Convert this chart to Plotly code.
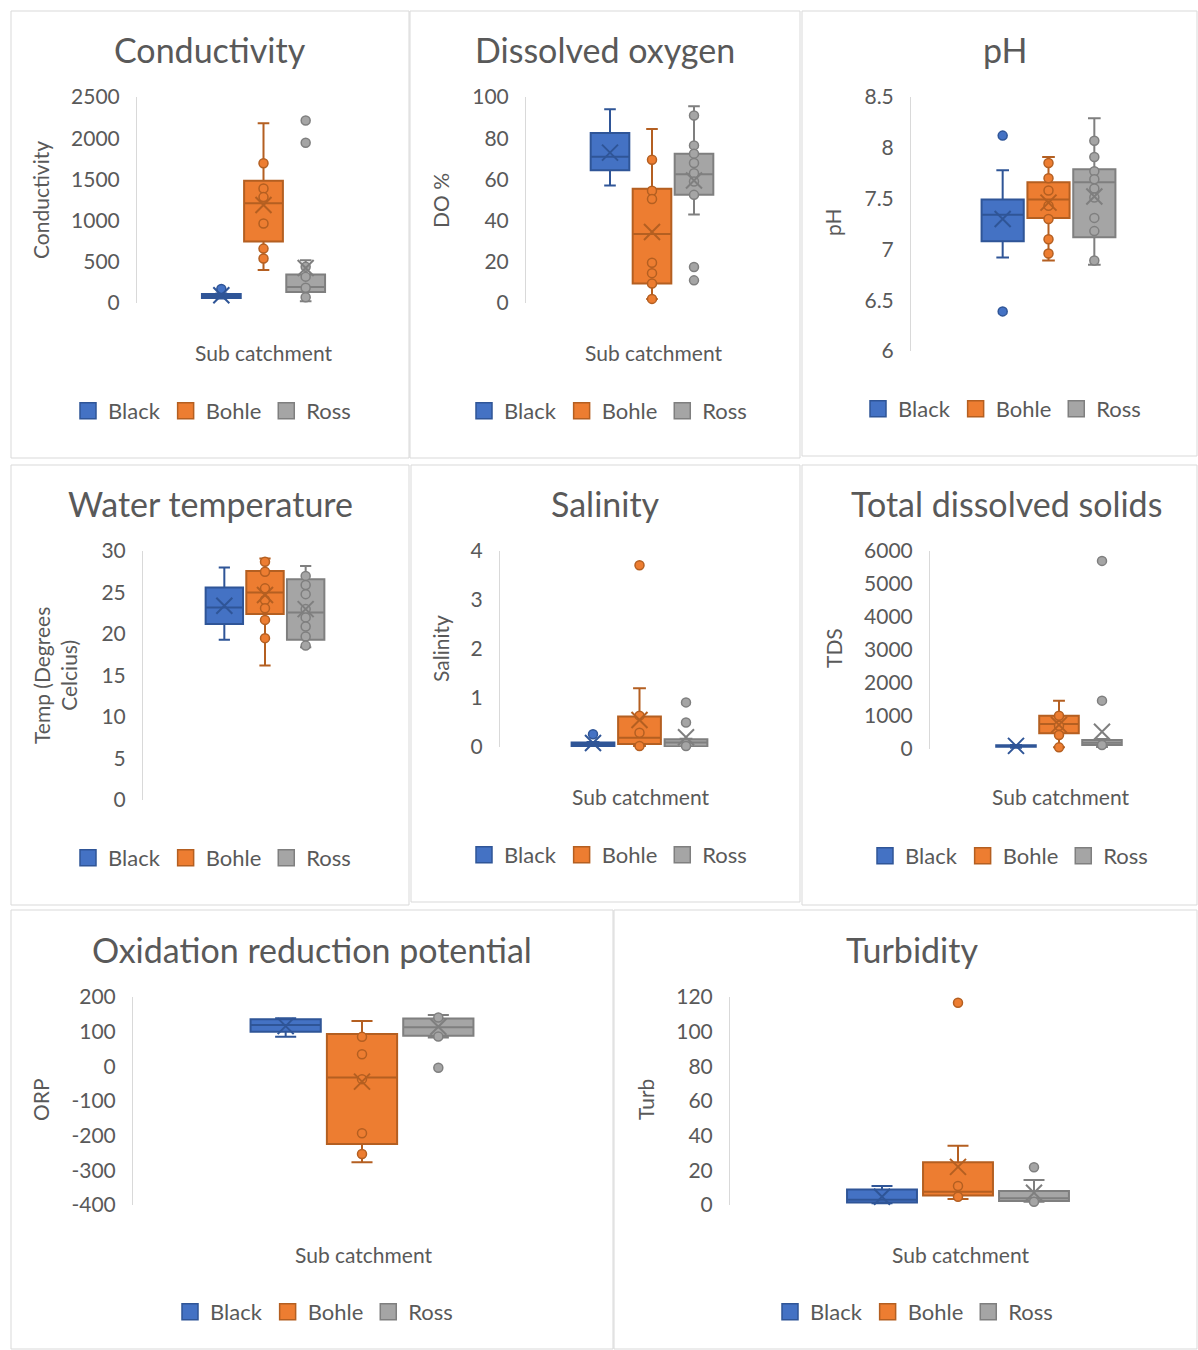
import plotly.graph_objects as go

W, H = 1198, 1350
TEXT = "#595959"
FONT = "Lato"

SERIES = ["Black", "Bohle", "Ross"]
FILL = ["#4472C4", "#ED7D31", "#A5A5A5"]
EDGE = ["#2F5597", "#B45F21", "#7F7F7F"]

# Five-number summaries, means and plotted sample points per sub catchment
# (order of every list: Black, Bohle, Ross)
conductivity = {
    "lower": [55, 400, 20], "q1": [60, 745, 135], "median": [85, 1210, 195],
    "q3": [110, 1485, 345], "upper": [115, 2180, 520], "mean": [95, 1190, 425],
    "points": [[170], [1695, 1390, 1285, 965, 660, 540], [2215, 1945, 440, 320, 185, 70]],
}
dissolved_oxygen = {
    "lower": [57, 2, 43], "q1": [64.5, 9.5, 52.5], "median": [71, 33.5, 62.5],
    "q3": [82.5, 55.5, 72.5], "upper": [94, 84.5, 95.5], "mean": [73, 34.5, 59.5],
    "points": [[], [69.5, 54.5, 50.5, 19.5, 14.5, 9.5, 2],
               [91, 76.5, 72.5, 68, 63, 59, 52.5, 17.5, 11]],
}
ph = {
    "lower": [6.92, 6.89, 6.85], "q1": [7.08, 7.31, 7.12], "median": [7.34, 7.49, 7.66],
    "q3": [7.49, 7.66, 7.79], "upper": [7.78, 7.91, 8.29], "mean": [7.30, 7.46, 7.52],
    "points": [[8.12, 6.39], [7.85, 7.70, 7.58, 7.43, 7.30, 7.10, 6.96],
               [8.07, 7.91, 7.77, 7.69, 7.60, 7.51, 7.31, 7.18, 6.89]],
}
water_temperature = {
    "lower": [19.3, 16.2, 18.4], "q1": [21.2, 22.4, 19.3], "median": [23.2, 25.0, 22.6],
    "q3": [25.6, 27.6, 26.6], "upper": [28.0, 29.1, 28.2], "mean": [23.4, 24.7, 23.0],
    "points": [[], [28.7, 27.5, 25.5, 24.1, 23.1, 21.7, 19.5],
               [27.0, 25.9, 24.8, 23.0, 22.0, 20.9, 19.7, 18.6]],
}
salinity = {
    "lower": [0.0, 0.02, 0.0], "q1": [0.02, 0.06, 0.01], "median": [0.05, 0.19, 0.09],
    "q3": [0.09, 0.62, 0.16], "upper": [0.10, 1.2, 0.17], "mean": [0.08, 0.55, 0.20],
    "points": [[0.26], [3.71, 0.64, 0.29, 0.02], [0.91, 0.50, 0.02]],
}
total_dissolved_solids = {
    "lower": [40, 50, 60], "q1": [70, 475, 120], "median": [90, 760, 190],
    "q3": [110, 1010, 275], "upper": [120, 1465, 300], "mean": [95, 730, 525],
    "points": [[], [1010, 705, 425, 50], [5700, 1465, 120]],
}
orp = {
    "lower": [85, -277, 83], "q1": [100, -224, 88], "median": [119, -32, 113],
    "q3": [136, 93, 138], "upper": [139, 131, 148], "mean": [116, -44, 114],
    "points": [[], [85, 35, -37, -193, -253], [141, 86, -4]],
}
turbidity = {
    "lower": [1, 3.5, 1.9], "q1": [1.5, 5.5, 2.3], "median": [3, 7.7, 3.9],
    "q3": [9, 24.6, 8.1], "upper": [11, 34.2, 14.4], "mean": [4.8, 22, 7.1],
    "points": [[], [116.7, 11, 4.8], [21.8, 1.9]],
}

# Value-axis ticks
cond_ticks = [0, 500, 1000, 1500, 2000, 2500]
cond_labels = ["0", "500", "1000", "1500", "2000", "2500"]
do_ticks = [0, 20, 40, 60, 80, 100]
do_labels = ["0", "20", "40", "60", "80", "100"]
ph_ticks = [6, 6.5, 7, 7.5, 8, 8.5]
ph_labels = ["6", "6.5", "7", "7.5", "8", "8.5"]
temp_ticks = [0, 5, 10, 15, 20, 25, 30]
temp_labels = ["0", "5", "10", "15", "20", "25", "30"]
sal_ticks = [0, 1, 2, 3, 4]
sal_labels = ["0", "1", "2", "3", "4"]
tds_ticks = [0, 1000, 2000, 3000, 4000, 5000, 6000]
tds_labels = ["0", "1000", "2000", "3000", "4000", "5000", "6000"]
orp_ticks = [-400, -300, -200, -100, 0, 100, 200]
orp_labels = ["-400", "-300", "-200", "-100", "0", "100", "200"]
turb_ticks = [0, 20, 40, 60, 80, 100, 120]
turb_labels = ["0", "20", "40", "60", "80", "100", "120"]

X_TITLE = "Sub catchment"

# Page layout in pixels: frame (x0, x1, y0, y1), plot area (x0, x1, top, bottom),
# title centre, y-title centre, x-title centre, legend centre
PANELS = [
    dict(data=conductivity, ticks=cond_ticks, labels=cond_labels,
         title="Conductivity", ytitle="Conductivity", xtitle=True,
         frame=(11, 409, 11, 458), plot=(137, 390, 97, 303),
         t=(210, 50), yt=(40, 200), xt=(264, 353), lg=(212, 411)),
    dict(data=dissolved_oxygen, ticks=do_ticks, labels=do_labels,
         title="Dissolved oxygen", ytitle="DO %", xtitle=True,
         frame=(410, 800, 11, 458), plot=(526, 778, 97, 303),
         t=(605, 50), yt=(440, 200), xt=(654, 353), lg=(608, 411)),
    dict(data=ph, ticks=ph_ticks, labels=ph_labels,
         title="pH", ytitle="pH", xtitle=False,
         frame=(802, 1197, 11, 456), plot=(911, 1186, 97, 351),
         t=(1005, 50), yt=(833, 222), xt=None, lg=(1002, 409)),
    dict(data=water_temperature, ticks=temp_ticks, labels=temp_labels,
         title="Water temperature", ytitle="Temp (Degrees<br>Celcius)", xtitle=False,
         frame=(11, 409, 465, 905), plot=(143, 387, 551, 800),
         t=(210, 503), yt=(55, 675), xt=None, lg=(212, 858)),
    dict(data=salinity, ticks=sal_ticks, labels=sal_labels,
         title="Salinity", ytitle="Salinity", xtitle=True,
         frame=(411, 800, 465, 902), plot=(500, 779, 551, 747),
         t=(605, 503), yt=(440, 648), xt=(641, 797), lg=(608, 855)),
    dict(data=total_dissolved_solids, ticks=tds_ticks, labels=tds_labels,
         title="Total dissolved solids", ytitle="TDS", xtitle=True,
         frame=(802, 1197, 465, 905), plot=(930, 1188, 551, 749),
         t=(1006, 503), yt=(833, 648), xt=(1061, 797), lg=(1009, 856)),
    dict(data=orp, ticks=orp_ticks, labels=orp_labels,
         title="Oxidation reduction potential", ytitle="ORP", xtitle=True,
         frame=(11, 613, 910, 1349), plot=(133, 591, 997, 1205),
         t=(312, 949), yt=(40, 1100), xt=(364, 1254), lg=(314, 1312)),
    dict(data=turbidity, ticks=turb_ticks, labels=turb_labels,
         title="Turbidity", ytitle="Turb", xtitle=True,
         frame=(614, 1197, 910, 1349), plot=(730, 1186, 997, 1205),
         t=(912, 949), yt=(645, 1100), xt=(961, 1254), lg=(914, 1312)),
]

TITLE_SIZE = 34
LABEL_SIZE = 21
LEGEND_SIZE = 22


def fx(p):
    return p / W


def fy(p):
    return 1 - p / H


fig = go.Figure()
layout = dict(
    width=W, height=H,
    margin=dict(l=0, r=0, t=0, b=0, pad=0, autoexpand=False),
    paper_bgcolor="white", plot_bgcolor="white", showlegend=True,
    font=dict(family=FONT, color=TEXT, size=LABEL_SIZE),
    annotations=[], shapes=[],
)

for k, p in enumerate(PANELS, start=1):
    sfx = "" if k == 1 else str(k)
    xa, ya, lg = "x" + sfx, "y" + sfx, "legend" + sfx
    x0, x1, yt, yb = p["plot"]
    d = p["data"]

    layout["xaxis" + sfx] = dict(
        domain=[fx(x0), fx(x1)], range=[-2, 4], anchor=ya,
        showline=False, showgrid=False, zeroline=False,
        showticklabels=False, ticks="", fixedrange=True,
    )
    layout["yaxis" + sfx] = dict(
        domain=[fy(yb), fy(yt)], range=[p["ticks"][0], p["ticks"][-1]], anchor=xa,
        showline=True, linecolor="#D9D9D9", linewidth=1,
        showgrid=False, zeroline=False, ticks="",
        tickmode="array", tickvals=p["ticks"], ticktext=p["labels"],
        tickfont=dict(family=FONT, size=LABEL_SIZE, color=TEXT),
        ticklabelstandoff=12, fixedrange=True,
    )

    for i, name in enumerate(SERIES):
        fig.add_trace(go.Box(
            x=[i], q1=[d["q1"][i]], median=[d["median"][i]], q3=[d["q3"][i]],
            lowerfence=[d["lower"][i]], upperfence=[d["upper"][i]],
            fillcolor=FILL[i], line=dict(color=EDGE[i], width=2),
            whiskerwidth=0.3, width=0.92, boxpoints=False,
            hoverinfo="skip", showlegend=False, xaxis=xa, yaxis=ya,
        ))
        pts = d["points"][i]
        if pts:
            fig.add_trace(go.Scatter(
                x=[i] * len(pts), y=pts, mode="markers",
                marker=dict(symbol="circle", size=9, color=FILL[i],
                            line=dict(color=EDGE[i], width=1.5)),
                cliponaxis=False, hoverinfo="y", showlegend=False,
                xaxis=xa, yaxis=ya,
            ))
        fig.add_trace(go.Scatter(
            x=[i], y=[d["mean"][i]], mode="markers",
            marker=dict(symbol="x-thin", size=16,
                        line=dict(color=EDGE[i], width=2)),
            cliponaxis=False, hoverinfo="y", showlegend=False,
            xaxis=xa, yaxis=ya,
        ))
        # legend key
        fig.add_trace(go.Scatter(
            x=[None], y=[None], mode="markers", name=name,
            marker=dict(symbol="square", size=16, color=FILL[i],
                        line=dict(color=EDGE[i], width=1.5)),
            showlegend=True, legend=lg, xaxis=xa, yaxis=ya,
        ))

    layout[lg] = dict(
        orientation="h", x=fx(p["lg"][0]), y=fy(p["lg"][1]),
        xanchor="center", yanchor="middle",
        font=dict(family=FONT, size=LEGEND_SIZE, color=TEXT),
        bgcolor="rgba(0,0,0,0)", itemclick=False, itemdoubleclick=False,
    )

    fr = p["frame"]
    layout["shapes"].append(dict(
        type="rect", xref="paper", yref="paper",
        x0=fx(fr[0]), x1=fx(fr[1]), y0=fy(fr[3]), y1=fy(fr[2]),
        line=dict(color="#D9D9D9", width=1), layer="below",
    ))

    layout["annotations"].append(dict(
        text=p["title"], xref="paper", yref="paper",
        x=fx(p["t"][0]), y=fy(p["t"][1]), xanchor="center", yanchor="middle",
        showarrow=False, font=dict(family=FONT, size=TITLE_SIZE, color=TEXT),
    ))
    layout["annotations"].append(dict(
        text=p["ytitle"], xref="paper", yref="paper", textangle=-90,
        x=fx(p["yt"][0]), y=fy(p["yt"][1]), xanchor="center", yanchor="middle",
        showarrow=False, font=dict(family=FONT, size=LABEL_SIZE, color=TEXT),
    ))
    if p["xtitle"]:
        layout["annotations"].append(dict(
            text=X_TITLE, xref="paper", yref="paper",
            x=fx(p["xt"][0]), y=fy(p["xt"][1]), xanchor="center", yanchor="middle",
            showarrow=False, font=dict(family=FONT, size=LABEL_SIZE, color=TEXT),
        ))

fig.update_layout(**layout)
fig.write_html("out.html", config={"displayModeBar": False})
